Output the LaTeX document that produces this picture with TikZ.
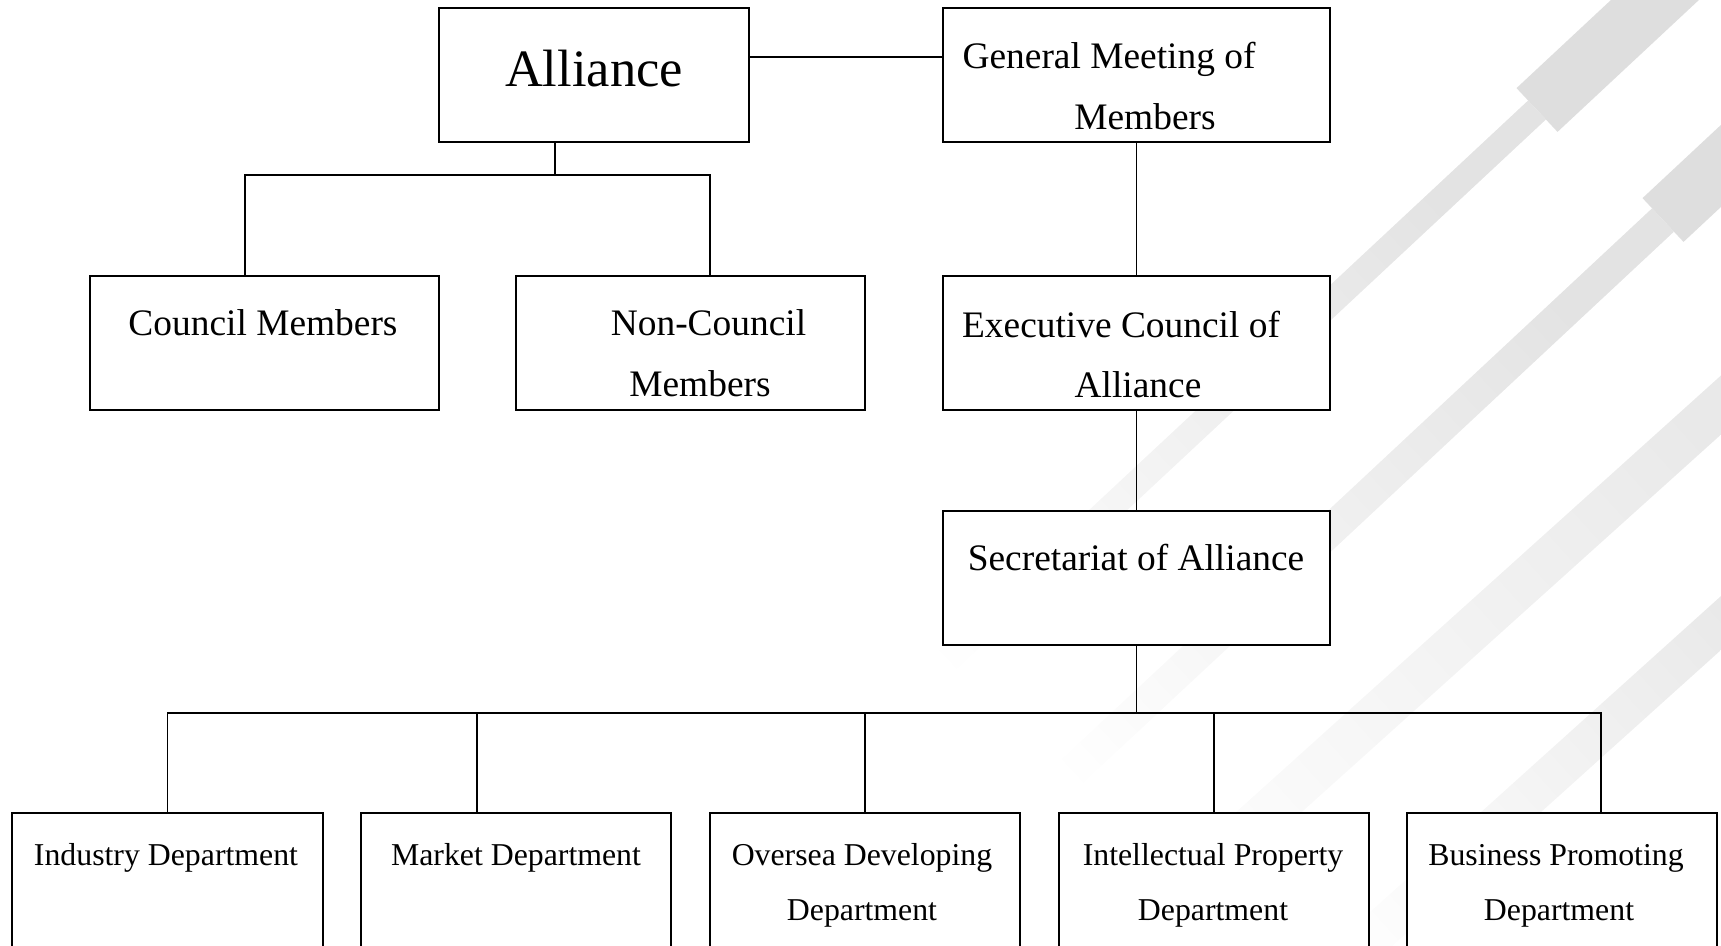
\documentclass[tikz,border=0pt]{standalone}
\usepackage{fontspec}
\setmainfont{Liberation Serif}
\definecolor{stripeA}{HTML}{DEDEDE}
\definecolor{stripeB}{HTML}{E3E3E3}
\definecolor{stripeC}{HTML}{E9E9E9}
\begin{document}
\begin{tikzpicture}[x=1pt,y=-1pt,
  box/.style={draw=black, line width=1.9pt, fill=white, rectangle, inner sep=0pt},
  link/.style={line width=1.9pt, draw=black},
  bigtext/.style={font=\fontsize{52.5}{60}\selectfont, inner sep=0pt, anchor=base},
  midtext/.style={font=\fontsize{37.4}{44}\selectfont, inner sep=0pt, anchor=base},
  smalltext/.style={font=\fontsize{31.8}{38}\selectfont, inner sep=0pt, anchor=base}
]
\useasboundingbox (0,0) rectangle (1721,945);
\begin{scope}
\clip (0,0) rectangle (1721,945);
% background stripes
\fill[stripeA] (1516.5,88.1) -- (1557.5,131.9) -- (1776.8,-72.7) -- (1735.8,-116.5) -- cycle;
\shade[left color=white, right color=stripeB, shading angle=133] (1528.1,100.5) -- (1545.9,119.5) -- (851.4,767.4) -- (833.6,748.4) -- cycle;
\fill[stripeA] (1642.5,198.1) -- (1683.5,241.9) -- (1902.8,37.3) -- (1861.8,-6.5) -- cycle;
\shade[left color=white, right color=stripeB, shading angle=133] (1652.1,208.3) -- (1673.9,231.7) -- (979.4,879.6) -- (957.6,856.2) -- cycle;
\shade[left color=white, right color=stripeC, shading angle=132] (1780.6,321.8) -- (1810,354.4) -- (1067,1023.4) -- (1037.6,990.8) -- cycle;
\shade[left color=white, right color=stripeC, shading angle=132] (1781.9,541.2) -- (1808.7,571) -- (1288.6,1039.3) -- (1261.8,1009.5) -- cycle;

% boxes
\node[box, minimum width=310pt, minimum height=134pt] (alliance) at (594,75) {};
\node[box, minimum width=387pt, minimum height=134pt] (gm) at (1136.5,75) {};
\node[box, minimum width=349pt, minimum height=134pt] (council) at (264.5,343) {};
\node[box, minimum width=349pt, minimum height=134pt] (noncouncil) at (690.5,343) {};
\node[box, minimum width=387pt, minimum height=134pt] (exec) at (1136.5,343) {};
\node[box, minimum width=387pt, minimum height=134pt] (sec) at (1136.5,578) {};
\node[box, minimum width=311pt, minimum height=147pt] (ind) at (167.5,886.5) {};
\node[box, minimum width=310pt, minimum height=147pt] (mkt) at (516,886.5) {};
\node[box, minimum width=310pt, minimum height=147pt] (ovs) at (865,886.5) {};
\node[box, minimum width=310pt, minimum height=147pt] (ip) at (1214,886.5) {};
\node[box, minimum width=310pt, minimum height=147pt] (bp) at (1562,886.5) {};

% texts
\node[bigtext] (talliance) at (594,86) {Alliance};
\node[midtext] (tgm1) at (1109,68) {General Meeting of};
\node[midtext] (tgm2) at (1145,129) {Members};
\node[midtext] (tcouncil) at (263,335) {Council Members};
\node[midtext] (tnc1) at (708.5,335) {Non-Council};
\node[midtext] (tnc2) at (700,396) {Members};
\node[midtext] (tex1) at (1121,337) {Executive Council of};
\node[midtext] (tex2) at (1138,397) {Alliance};
\node[midtext] (tsec) at (1136,570) {Secretariat of Alliance};
\node[smalltext] (tind) at (166,865) {Industry Department};
\node[smalltext] (tmkt) at (516,865) {Market Department};
\node[smalltext] (tovs1) at (862,865) {Oversea Developing};
\node[smalltext] (tovs2) at (862,920) {Department};
\node[smalltext] (tip1) at (1213,865) {Intellectual Property};
\node[smalltext] (tip2) at (1213,920) {Department};
\node[smalltext] (tbp1) at (1556,865) {Business Promoting};
\node[smalltext] (tbp2) at (1559,920) {Department};

% connectors
\draw[link] ([yshift=18pt]alliance.east) -- ([yshift=18pt]gm.west);
\coordinate (b1) at (555,175);
\draw[link] ([xshift=-39pt]alliance.south) -- (b1);
\draw[link] ([xshift=-19.5pt]council.north) |- (b1) -| ([xshift=19.5pt]noncouncil.north);
\draw[link] (gm.south) -- (exec.north);
\draw[link] (exec.south) -- (sec.north);
\coordinate (b2) at (1136.5,713);
\draw[link] (sec.south) -- (b2);
\draw[link] (ind.north) |- (b2) -| ([xshift=39pt]bp.north);
\draw[link] ([xshift=-39pt]mkt.north) -- ([xshift=-39pt]mkt.north |- b2);
\draw[link] (ovs.north) -- (ovs.north |- b2);
\draw[link] (ip.north) -- (ip.north |- b2);
\end{scope}
\end{tikzpicture}
\end{document}
